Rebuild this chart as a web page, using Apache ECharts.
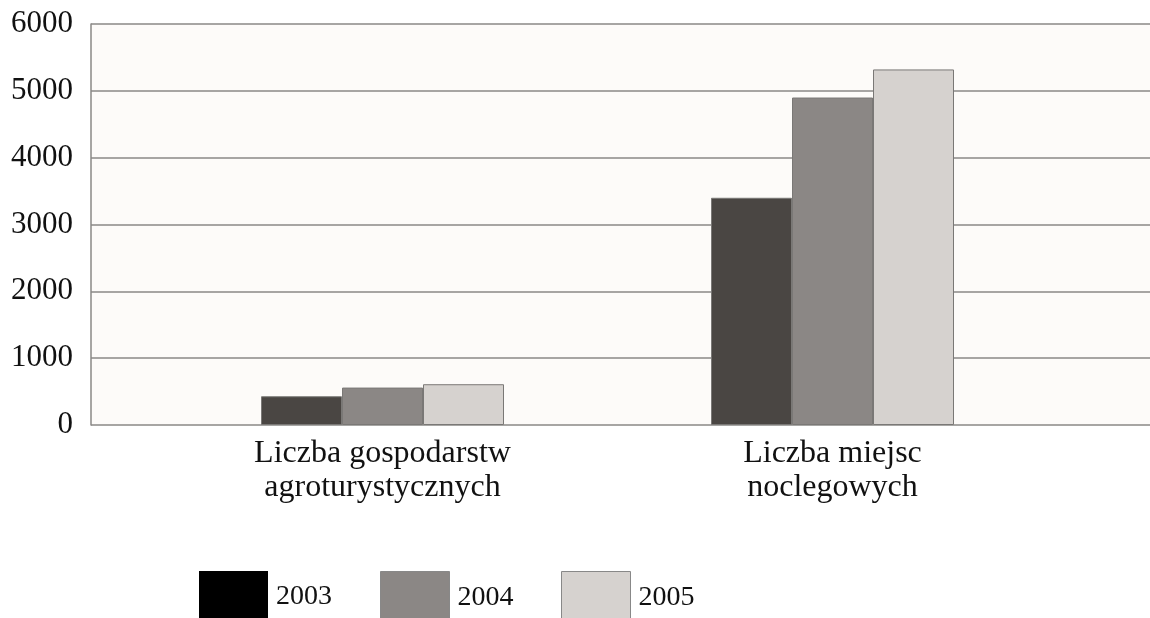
<!DOCTYPE html>
<html lang="pl">
<head>
    <meta charset="UTF-8">
    <title>Agroturystyka 2003-2005</title>
    <script src="https://cdn.jsdelivr.net/npm/echarts@6/dist/echarts.min.js"></script>
    <style>
        html, body { margin: 0; padding: 0; background: #fff; }
        #chart { width: 1150px; height: 618px; }
    </style>
</head>
<body>
<div id="chart"></div>
<script type="text/javascript">
    // dane
    var categories = ['Liczba gospodarstw\nagroturystycznych', 'Liczba miejsc\nnoclegowych'];
    var years = ['2003', '2004', '2005'];
    var values2003 = [430, 3400];
    var values2004 = [560, 4900];
    var values2005 = [610, 5320];
    var yTicks = [0, 1000, 2000, 3000, 4000, 5000, 6000];

    var barColors = ['#4a4643', '#8b8785', '#d6d2cf'];
    var legendColors = ['#000000', '#8b8785', '#d6d2cf'];
    var legendLeft = [199, 380, 561];
    var font = 'Liberation Serif';

    var chart = echarts.init(document.getElementById('chart'));

    var seriesData = [values2003, values2004, values2005];
    var series = years.map(function (y, i) {
        return {
            name: y,
            type: 'bar',
            xAxisIndex: 0,
            yAxisIndex: 0,
            barWidth: 81,
            barGap: '0%',
            itemStyle: { color: barColors[i], borderColor: '#7a7876', borderWidth: 1 },
            data: seriesData[i]
        };
    });

    var legends = years.map(function (y, i) {
        return {
            left: legendLeft[i],
            top: 571,
            padding: 0,
            itemWidth: 69,
            itemHeight: 52,
            itemGap: 0,
            icon: 'rect',
            textStyle: { fontFamily: font, fontSize: 28, color: '#111', padding: [0, 0, 0, 3] },
            data: [{ name: y, itemStyle: { color: legendColors[i], borderColor: '#888', borderWidth: i === 0 ? 0 : 1 } }]
        };
    });

    var option = {
        animation: false,
        backgroundColor: '#ffffff',
        legend: legends,
        grid: [
            { left: 157.5, width: 900, top: 24, height: 401 },
            { left: 91, right: -20, top: 24, height: 401, show: true, backgroundColor: '#fdfbf9', borderWidth: 0 }
        ],
        xAxis: [
            {
                type: 'category',
                gridIndex: 0,
                data: categories,
                axisLine: { show: false },
                axisTick: { show: false },
                axisLabel: {
                    fontFamily: font, fontSize: 32, color: '#111',
                    lineHeight: 34, margin: 12
                }
            },
            { type: 'value', gridIndex: 1, show: false }
        ],
        yAxis: [
            { type: 'value', gridIndex: 0, min: 0, max: 6000, interval: 1000, show: false },
            {
                type: 'value',
                gridIndex: 1,
                min: yTicks[0],
                max: yTicks[yTicks.length - 1],
                interval: 1000,
                axisLine: { show: true, lineStyle: { color: '#8a8886', width: 1.5 } },
                axisTick: { show: false },
                axisLabel: {
                    fontFamily: font, fontSize: 31, color: '#111', margin: 18,
                    formatter: function (v) { return String(v); }
                },
                splitLine: { show: true, lineStyle: { color: '#8a8886', width: 1.5 } }
            }
        ],
        series: series
    };

    chart.setOption(option);
</script>
</body>
</html>
